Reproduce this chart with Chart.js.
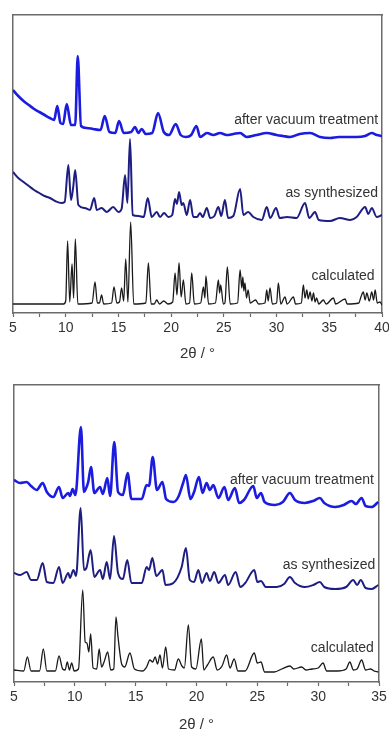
<!DOCTYPE html>
<html>
<head>
<meta charset="utf-8">
<script src="https://cdn.jsdelivr.net/npm/chart.js@4"></script>
<style>
  html, body { margin: 0; padding: 0; background: #fff; }
  .box { position: relative; width: 389px; height: 367px; }
</style>
</head>
<body>
<div class="box"><canvas id="chartTop"></canvas></div>
<div class="box"><canvas id="chartBottom"></canvas></div>
<script>
// ---- top panel (2θ 5–40), intensities, offset stacked ----
const vacTopX = [5.0,5.5,6.0,6.5,7.0,7.5,8.0,8.5,8.9,9.2,9.5,9.75,10.1,10.5,10.9,11.14,11.45,12.0,12.6,13.3,13.7,14.15,14.7,15.06,15.5,16.2,16.57,16.9,17.2,17.6,18.2,18.76,19.3,19.8,20.44,20.9,21.4,21.9,22.4,22.75,23.4,24.0,24.64,25.27,25.9,26.54,27.17,28.1,29.07,30.0,30.6,31.28,32.2,33.18,34.13,35.08,35.9,36.66,37.6,38.4,39.03,39.5,40.0];
const vacTopY = [223,217,212,208,204,201,198,195,193,207,190,189,209,188,188,257,187,185,184,183,197,181,180,192,180,181,186,180,184,179,180,200,181,178,189,178,176,178,187,176,180,178,180,178,179,180,176,178,180,178,177,176,179,180,176,175,176,176,176,177,180,178,177];

const synTopX = [5.0,5.5,6.0,6.5,7.0,7.5,8.0,8.5,9.0,9.6,9.9,10.25,10.5,10.7,10.9,11.2,11.8,12.3,12.7,12.95,13.4,13.9,14.5,15.0,15.3,15.63,15.85,16.1,16.35,16.9,17.4,17.78,18.16,18.63,18.95,19.33,19.74,20.1,20.37,20.55,20.75,21.0,21.15,21.48,21.8,22.1,22.45,22.74,23.0,23.38,23.7,24.1,24.48,24.75,25.1,25.4,25.9,26.54,26.85,27.3,27.8,28.6,29.07,29.4,29.95,30.3,31.0,31.9,32.7,33.1,33.65,34.0,35.08,36.0,37.0,37.6,38.4,38.7,39.03,39.5,40.0];
const synTopY = [141,135,131,127,123,120,117,115,112,110,111,148,113,125,143,108,105,103,115,103,105,101,106,101,104,138,110,174,98,97,96,115,96,101,96,100,96,98,114,109,121,108,110,98,113,96,96,100,96,105,95,97,106,97,113,95,97,124,98,101,96,93,106,95,105,95,96,95,110,95,101,93,92,95,93,96,106,99,105,96,98];

const calcTopX = [5.0,9.8,10.0,10.18,10.38,10.6,10.75,10.91,11.15,12.5,12.78,13.0,13.2,13.4,13.6,14.35,14.58,14.85,15.1,15.3,15.5,15.69,15.9,16.16,16.45,17.6,17.84,18.1,18.4,18.63,18.9,19.3,19.7,20.15,20.37,20.55,20.75,20.95,21.16,21.4,21.75,21.95,22.2,22.8,23.06,23.2,23.3,23.55,24.2,24.48,24.6,24.7,24.95,25.1,25.33,25.6,26.3,26.54,26.7,26.8,26.9,27.0,27.15,27.3,27.5,28.0,28.3,28.9,29.07,29.2,29.38,29.6,30.0,30.17,30.4,30.8,31.0,31.6,31.8,32.35,32.54,32.7,32.87,33.0,33.18,33.35,33.5,33.65,33.8,34.0,34.44,34.7,35.4,35.6,36.5,36.7,37.8,38.0,38.23,38.4,38.56,38.8,39.03,39.2,39.35,39.55,39.8,40.0];
const calcTopY = [9,9,12,72,11,49,15,74,9,10,31,10,10,18,9,10,26,10,11,25,12,54,11,91,9,10,50,9,9,13,9,12,9,11,40,18,50,16,33,9,10,40,9,10,26,15,37,9,10,33,20,28,9,10,46,9,10,43,25,36,22,30,15,23,10,13,9,10,23,12,25,9,10,30,9,16,9,16,9,10,28,15,23,14,21,12,20,11,15,9,13,9,15,9,14,9,10,16,21,13,20,12,21,13,23,10,11,8];

// ---- bottom panel (2θ 5–35) ----
const vacBotX = [5.0,5.5,6.04,6.4,6.86,7.36,7.7,8.23,8.7,9.0,9.46,9.6,9.82,10.05,10.5,10.75,10.9,11.1,11.33,11.6,12.07,12.3,12.67,12.9,13.24,13.55,13.95,14.34,14.65,15.5,15.9,16.1,16.4,16.75,17.2,17.5,18.1,18.5,18.9,19.13,19.5,19.8,20.2,20.5,20.83,21.1,21.38,21.8,22.3,22.6,23.16,23.5,23.9,24.67,24.95,25.3,25.6,26.45,27.1,27.68,28.1,28.9,29.6,30.14,30.5,31.4,32.1,32.75,33.1,33.57,33.9,34.4,34.94];
const vacBotY = [202,199,200,196,192,199,190,185,195,184,189,186,193,187,255,190,193,200,215,189,195,188,204,186,240,190,187,209,183,183,197,196,225,192,200,183,180,185,199,207,183,190,205,189,199,192,197,184,195,182,194,179,182,196,184,189,180,177,180,189,182,179,181,184,179,175,177,181,178,184,176,175,180];

const synBotX = [5.0,5.5,6.04,6.4,6.87,7.36,7.7,8.23,8.7,9.0,9.46,9.6,9.88,10.1,10.48,10.75,10.95,11.3,11.6,12.07,12.3,12.62,12.9,13.22,13.55,13.95,14.31,14.65,15.5,15.9,16.1,16.37,16.7,17.2,17.45,18.1,18.78,19.13,19.45,19.8,20.15,20.45,20.83,21.1,21.46,21.8,22.34,22.6,23.22,23.6,24.0,24.75,25.0,25.3,25.7,26.6,27.2,27.68,28.1,28.9,29.6,30.14,30.5,31.4,32.3,32.88,33.2,33.5,33.9,34.4,34.94];
const synBotY = [109,107,110,102,102,119,100,99,115,99,109,104,112,106,174,112,114,132,105,112,103,120,103,146,109,103,122,99,99,115,112,124,106,112,97,99,115,134,102,100,112,99,109,101,110,99,107,97,110,95,99,112,100,101,95,95,98,105,99,95,97,100,95,93,95,102,97,102,94,93,97];

const calcBotX = [5.0,5.8,6.1,6.4,7.1,7.41,7.7,8.4,8.7,9.0,9.2,9.38,9.55,9.74,9.95,10.3,10.65,10.85,11.0,11.15,11.3,11.5,11.8,12.0,12.2,12.4,12.7,12.95,13.2,13.38,13.55,13.85,14.1,14.53,14.9,15.6,15.9,16.17,16.4,16.6,16.8,17.0,17.2,17.47,17.7,18.2,18.5,18.8,19.0,19.33,19.6,19.95,20.4,20.6,20.9,21.38,21.7,22.1,22.48,22.75,23.1,23.4,24.0,24.75,25.0,25.3,25.6,26.4,27.0,27.68,28.0,28.64,29.0,29.5,30.0,30.4,30.7,31.6,32.3,32.6,32.9,33.2,33.57,33.9,34.3,34.6,34.94];
const calcBotY = [12,11,25,11,11,33,11,11,26,13,12,20,12,19,11,13,92,40,39,30,48,14,13,33,15,20,30,12,13,65,45,18,15,29,13,11,15,22,20,25,18,27,14,35,13,12,23,16,14,57,15,13,43,12,17,25,12,16,27,14,23,11,11,29,19,20,10,10,13,16,13,15,12,13,14,19,11,11,13,20,12,13,22,12,13,11,10];

const seriesNames = ['after vacuum treatment', 'as synthesized', 'calculated'];
const seriesColors = ['#1c1ce0', '#1e1e82', '#1a1a1a'];
const seriesWidths = [2.6, 2.0, 1.3];

const pts = (xs, ys) => xs.map((x, i) => ({ x: x, y: ys[i] }));

const axisColor = '#6b6b6b';
const textColor = '#333';
const fontFamily = '"Liberation Sans", Arial, sans-serif';

// draws the series names right-aligned inside the plot
const labelPlugin = {
  id: 'seriesLabels',
  afterDatasetsDraw(chart, args, opts) {
    const { ctx, scales } = chart;
    ctx.save();
    ctx.font = '14px ' + fontFamily;
    ctx.fillStyle = textColor;
    ctx.textAlign = 'right';
    ctx.textBaseline = 'middle';
    opts.items.forEach(it => {
      ctx.fillText(it.text, scales.x.getPixelForValue(it.x), scales.y.getPixelForValue(it.y));
    });
    ctx.restore();
  }
};

function makeChart(id, sets, xmax, ymax, box, labels) {
  return new Chart(document.getElementById(id), {
    type: 'line',
    data: {
      datasets: sets.map((d, i) => ({
        label: seriesNames[i],
        data: d,
        borderColor: seriesColors[i],
        borderWidth: seriesWidths[i],
        pointRadius: 0,
        cubicInterpolationMode: 'monotone',
        fill: false
      }))
    },
    options: {
      responsive: true,
      maintainAspectRatio: false,
      animation: false,
      devicePixelRatio: 1,
      layout: { padding: 0 },
      plugins: {
        legend: { display: false },
        tooltip: { enabled: false },
        seriesLabels: { items: labels }
      },
      scales: {
        x: {
          type: 'linear', position: 'bottom', min: 5, max: xmax,
          afterFit: s => { s.height = box.bottom; s.paddingLeft = 0; s.paddingRight = 0; },
          ticks: {
            stepSize: 2.5, padding: 3, color: textColor,
            font: { family: fontFamily, size: 14 },
            callback: v => (v % 5 === 0 ? v : '')
          },
          grid: { drawOnChartArea: false, drawTicks: true, tickLength: 4, color: axisColor, tickWidth: 1.2 },
          border: { color: axisColor, width: 1.5 },
          title: { display: true, text: '2θ / °', color: textColor, font: { family: fontFamily, size: 15 }, padding: { top: 4, bottom: box.titleGap } }
        },
        xTop: {
          type: 'linear', position: 'top', min: 5, max: xmax,
          afterFit: s => { s.height = box.top; },
          ticks: { display: false }, grid: { display: false },
          border: { color: axisColor, width: 1.5 }
        },
        y: {
          position: 'left', min: 0, max: ymax,
          afterFit: s => { s.width = box.left; },
          ticks: { display: false }, grid: { display: false },
          border: { color: axisColor, width: 1.5 }
        },
        yRight: {
          position: 'right', min: 0, max: ymax,
          afterFit: s => { s.width = box.right; },
          ticks: { display: false }, grid: { display: false },
          border: { color: axisColor, width: 1.5 }
        }
      }
    },
    plugins: [labelPlugin]
  });
}

makeChart('chartTop',
  [pts(vacTopX, vacTopY), pts(synTopX, synTopY), pts(calcTopX, calcTopY)],
  40, 298, { top: 15, bottom: 54, left: 13, right: 7, titleGap: 4 },
  [
    { text: seriesNames[0], x: 39.63, y: 193 },
    { text: seriesNames[1], x: 39.63, y: 120 },
    { text: seriesNames[2], x: 39.3, y: 37 }
  ]);

makeChart('chartBottom',
  [pts(vacBotX, vacBotY), pts(synBotX, synBotY), pts(calcBotX, calcBotY)],
  35, 297, { top: 18, bottom: 52, left: 14, right: 10, titleGap: 0 },
  [
    { text: seriesNames[0], x: 34.58, y: 202 },
    { text: seriesNames[1], x: 34.7, y: 117 },
    { text: seriesNames[2], x: 34.58, y: 34 }
  ]);
</script>
</body>
</html>
